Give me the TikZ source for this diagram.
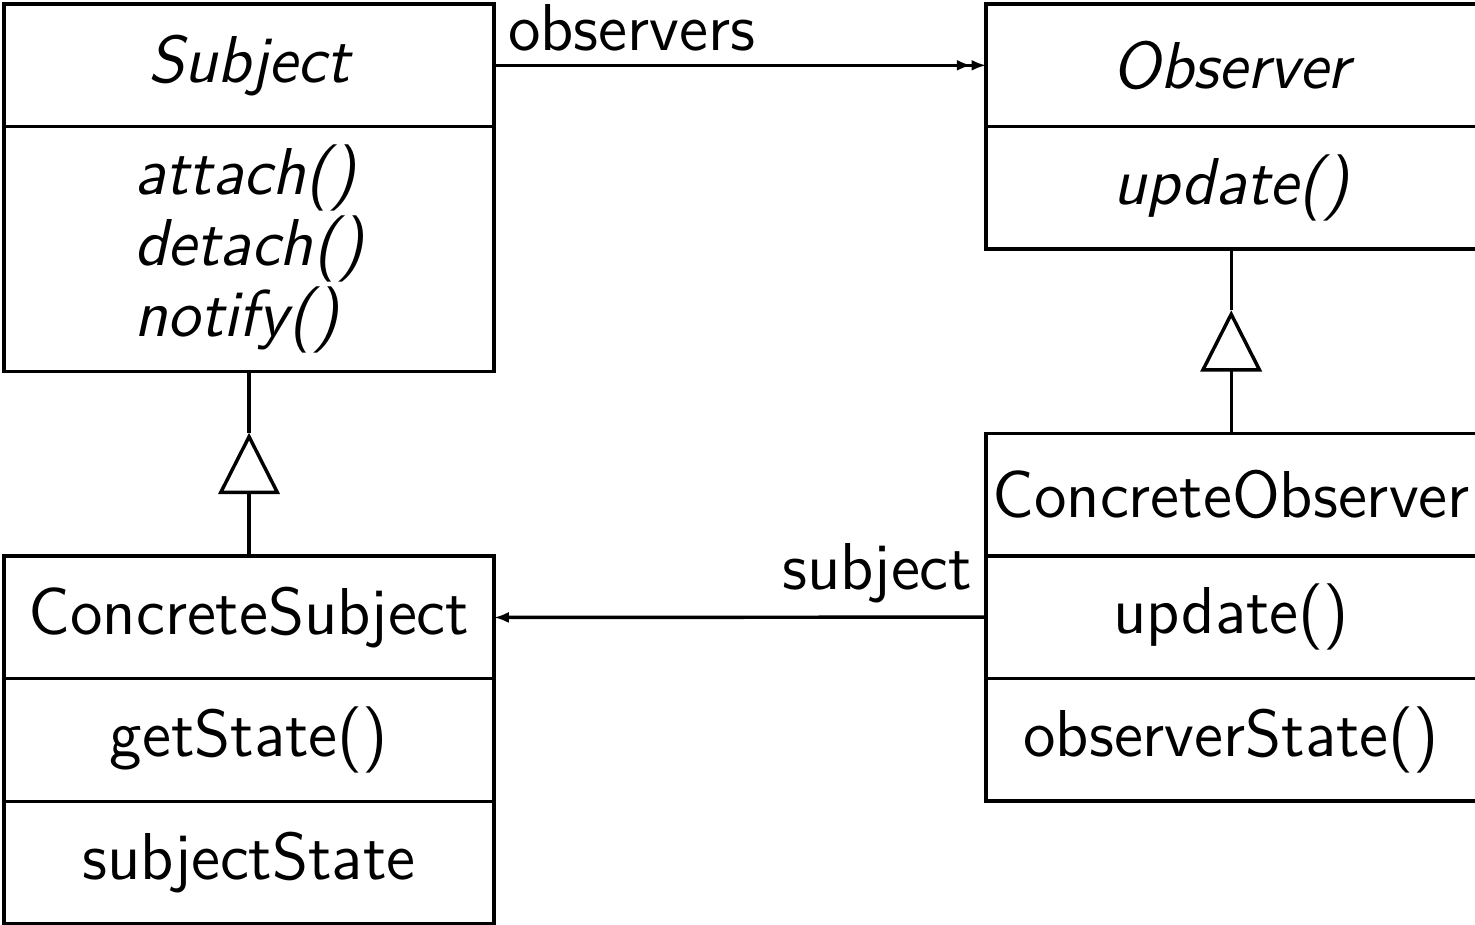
\documentclass[tikz,border=0pt]{standalone}
\usetikzlibrary{positioning,arrows.meta,calc}
\tikzset{
	classpart/.style={draw, line width=.8pt, minimum width=4cm, minimum height=1cm,
		inner sep=0pt, outer sep=0pt, font=\sffamily\fontsize{15.4}{16.5}\selectfont},
	abstract/.style={classpart, font=\sffamily\itshape\fontsize{15.4}{16.5}\selectfont},
	generalization/.style={line width=.8pt, -{Triangle[open, width=5mm, length=5mm]}},
	many/.style={line width=.8pt, -{Latex[length=1.2mm, width=.9mm] Latex[length=1.2mm, width=.9mm]}},
	one/.style={line width=.8pt, -{Latex[length=1.2mm, width=.9mm]}},
	rolelabel/.style={font=\sffamily\fontsize{15.4}{16.5}\selectfont, inner sep=1mm}
}
\begin{document}
\begin{tikzpicture}
	\useasboundingbox (0,0) rectangle (12.04,-7.543);
	% Subject
	\node [abstract] (subjName) at (2.033,-.533) {Subject};
	\node [abstract, minimum height=2cm, align=left, below=0pt of subjName] (subjOps)
		{attach()\\detach()\\notify()};
	% ConcreteSubject
	\node [classpart] (csName) at (2.033,-5.04) {ConcreteSubject};
	\node [classpart, below=0pt of csName] (csOps) {getState()};
	\node [classpart, below=0pt of csOps] (csState) {subjectState};
	% Observer
	\node [abstract] (obsName) at (10.05,-.533) {Observer};
	\node [abstract, below=0pt of obsName] (obsOps) {update()};
	% ConcreteObserver
	\node [classpart] (coName) at (10.05,-4.037) {ConcreteObserver};
	\node [classpart, below=0pt of coName] (coOps) {update()};
	\node [classpart, below=0pt of coOps] (coState) {observerState()};
	% inheritance
	\coordinate (subjTip) at ($(subjOps.south)+(0,-.5)$);
	\coordinate (obsTip) at ($(obsOps.south)+(0,-.5)$);
	\draw [generalization] (csName.north) -- (subjTip);
	\draw [line width=.8pt] (subjTip) -- (subjOps.south);
	\draw [generalization] (coName.north) -- (obsTip);
	\draw [line width=.8pt] (obsTip) -- (obsOps.south);
	% associations
	\draw [many] (subjName.east) -- node[rolelabel, above right, pos=0] {observers} (obsName.west);
	\draw [one] (coOps.west) -- node[rolelabel, above left, pos=0] {subject} (csName.east);
\end{tikzpicture}
\end{document}
